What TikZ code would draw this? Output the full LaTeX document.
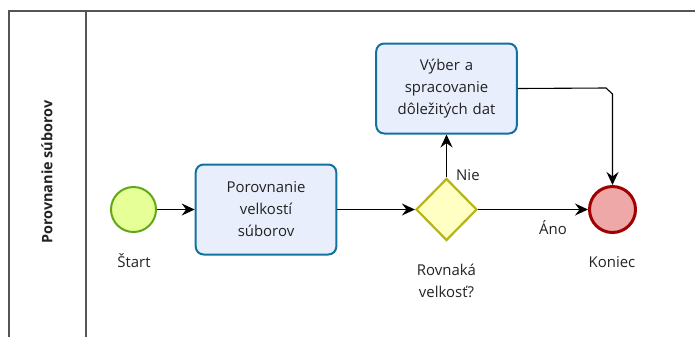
\documentclass[tikz,border=0pt]{standalone}
\usepackage{fontspec}
\setmainfont{Open Sans}
\usetikzlibrary{shapes.geometric,arrows.meta}
\definecolor{laneline}{HTML}{555555}
\definecolor{startfill}{HTML}{E6FF97}
\definecolor{startdraw}{HTML}{62A716}
\definecolor{taskfill}{HTML}{E8EEFB}
\definecolor{taskdraw}{HTML}{10739E}
\definecolor{gatefill}{HTML}{FFFFC4}
\definecolor{gatedraw}{HTML}{B5B51B}
\definecolor{endfill}{HTML}{EEA8A8}
\definecolor{enddraw}{HTML}{A20000}
\definecolor{txt}{HTML}{222222}
\tikzset{
  lane/.style={draw=laneline, line width=1.3bp},
  startev/.style={circle, draw=startdraw, fill=startfill, line width=2bp, minimum size=45bp, inner sep=0pt},
  endev/.style={circle, draw=enddraw, fill=endfill, line width=3bp, minimum size=46bp, inner sep=0pt},
  task/.style={rectangle, rounded corners=8bp, draw=taskdraw, fill=taskfill, line width=2bp,
    minimum width=137bp, minimum height=90bp, align=center, text width=134bp, font=\fontsize{15}{22}\selectfont, text=txt},
  gate/.style={diamond, draw=gatedraw, fill=gatefill, line width=2.2bp, minimum width=61bp, minimum height=62bp, inner sep=0pt},
  lbl/.style={font=\fontsize{15}{22}\selectfont, text=txt, align=center},
  flow/.style={draw=black, line width=1.1bp, -{Stealth[length=13bp,width=12bp,inset=4.5bp]}},
}
\begin{document}
\begin{tikzpicture}[x=1bp, y=-1bp]
  \useasboundingbox (0,0) rectangle (695,336);
  % pool and lane header
  \draw[lane] (9,340) -- (9,11) -- (697,11);
  \draw[lane] (86,11) -- (86,340);
  \node[rotate=90, font=\bfseries\fontsize{14.5}{17}\selectfont, text=txt] (lanename) at (47,172) {Porovnanie súborov};
  % events, tasks and gateway
  \node[startev] (start) at (133.5,209.5) {};
  \node[task] (cmp) at (266,209.5) {Porovnanie\\velkostí\\súborov};
  \node[gate] (gw) at (446.5,209.5) {};
  \node[task] (proc) at (446.5,88.5) {Výber a\\spracovanie\\dôležitých dat};
  \node[endev] (end) at (612.5,209.5) {};
  % labels
  \node[lbl] (startlbl) at (134,261) {Štart};
  \node[lbl] (gwlbl) at (446.5,281) {Rovnaká\\velkosť?};
  \node[lbl] (endlbl) at (612,262) {Koniec};
  \node[lbl, anchor=west, inner sep=0pt] (nie) at (456,175) {Nie};
  \node[lbl, inner sep=0pt] (ano) at (553,228) {Áno};
  % sequence flows
  \draw[flow] (start) -- (cmp);
  \draw[flow] (cmp) -- (gw);
  \draw[flow] (gw.north) -- (proc.south);
  \draw[flow] (gw.east) -- (end.west);
  \draw[flow] (proc.east) -- (606,88) -- (612.5,94) -- (end.north);
\end{tikzpicture}
\end{document}
